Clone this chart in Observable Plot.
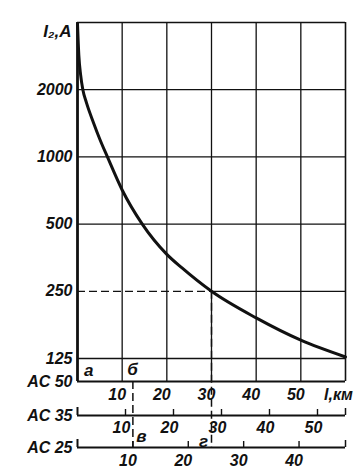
<!DOCTYPE html>
<html><head><meta charset="utf-8">
<script src="https://cdn.jsdelivr.net/npm/d3@7"></script>
<script src="https://cdn.jsdelivr.net/npm/@observablehq/plot@0.6"></script>
<style>
body{margin:0;background:#fff}
#chart svg{overflow:visible}
</style></head><body><div id="chart"></div>
<script>
// ---- data ----
const yTicks = [125, 250, 500, 1000, 2000];
const gridKm = [10, 20, 30, 40, 50];
const ac50Ticks = [10, 20, 30, 40, 50];
const ac35Ticks = [10, 20, 30, 40, 50];
const ac25Ticks = [10, 20, 30, 40];
// curve I2 (A) vs distance along AC 50 scale (km)
const distKm   = [0,    0.3,  0.7,  1.2,  2.0,  3.6,  5.0,  6.7,  10,  14.5, 20,  23.4, 30,  40,  50,  60];
const currentA = [3950, 2850, 2330, 2000, 1750, 1420, 1200, 1000, 711, 500,  366, 318,  250, 190, 151, 127];
const rowNames = ["AC 50", "AC 35", "AC 25"];
const regionNames = ["а", "б", "в", "г"];
const regionKm = [2.5, 12.3, 14.3, 28.2];
const markKm30 = 30;          // dashed marker on AC 50 scale
const markKm25 = 10;          // dashed marker on AC 25 scale
const markI = 250;
const scale35 = 1.0746;       // 1 km of AC 35 in AC 50 km
const scale25 = 1.24;         // 1 km of AC 25 in AC 50 km
const xMax = 60;
const yMin = 98.6, yMax = 4000;

const curve = distKm.map((k, i) => ({km: k, I: currentA[i]}));
const ink = "#111";
const dash = "8,4";
const font = "'Liberation Sans', Arial, sans-serif";
const Y0 = () => yMin;

const row35 = 34, row25 = 66;

const chart = Plot.plot({
  width: 364,
  height: 470,
  marginLeft: 77,
  marginRight: 19,
  marginTop: 22,
  marginBottom: 89,
  style: {fontFamily: font, fontSize: "16px", fontStyle: "italic", fontWeight: "bold", color: ink, background: "#fff", overflow: "visible"},
  x: {domain: [0, xMax], axis: null},
  y: {type: "log", domain: [yMin, yMax], ticks: yTicks, tickFormat: d => String(d), tickSize: 0, tickPadding: 5, label: null},
  marks: [
    // grid
    Plot.ruleX(gridKm, {stroke: ink, strokeWidth: 1.3}),
    Plot.ruleY(yTicks.filter(v => v !== markI), {stroke: ink, strokeWidth: 1.3}),
    Plot.ruleY([markI], {x1: () => markKm30, x2: () => xMax, stroke: ink, strokeWidth: 1.3}),
    Plot.ruleY([markI], {x1: () => 0, x2: () => markKm30, stroke: ink, strokeWidth: 1.3, strokeDasharray: dash}),
    // frame
    Plot.ruleY([yMax], {stroke: ink, strokeWidth: 1.3}),
    Plot.ruleX([xMax], {stroke: ink, strokeWidth: 1.6}),
    Plot.ruleX([0], {stroke: ink, strokeWidth: 2.8}),
    Plot.ruleY([yMin], {stroke: ink, strokeWidth: 2.2}),
    // curve
    Plot.line(curve, {x: "km", y: "I", curve: "monotone-x", stroke: ink, strokeWidth: 3}),
    // dashed markers
    Plot.ruleX([markKm30], {y1: () => markI, y2: Y0, insetBottom: -row25, stroke: ink, strokeWidth: 1.5, strokeDasharray: dash}),
    Plot.ruleX([markKm25 * scale25], {y1: Y0, y2: Y0, insetBottom: -row25, stroke: ink, strokeWidth: 1.5, strokeDasharray: dash}),
    // AC 35 axis
    Plot.ruleY([yMin], {dy: row35, stroke: ink, strokeWidth: 2}),
    Plot.ruleX([0], {y1: Y0, y2: Y0, dy: row35, insetTop: -8, stroke: ink, strokeWidth: 2}),
    Plot.ruleX([xMax], {y1: Y0, y2: Y0, dy: row35, insetTop: -7, stroke: ink, strokeWidth: 1.5}),
    Plot.ruleX(ac35Ticks, {x: d => d * scale35, y1: Y0, y2: Y0, dy: row35, insetTop: -6, stroke: ink, strokeWidth: 1.4}),
    // AC 25 axis
    Plot.ruleY([yMin], {dy: row25, stroke: ink, strokeWidth: 2}),
    Plot.ruleX([0], {y1: Y0, y2: Y0, dy: row25, insetTop: -8, stroke: ink, strokeWidth: 2}),
    Plot.ruleX([xMax], {y1: Y0, y2: Y0, dy: row25, insetTop: -7, stroke: ink, strokeWidth: 1.5}),
    Plot.ruleX(ac25Ticks, {x: d => d * scale25, y1: Y0, y2: Y0, dy: row25, insetTop: -6, stroke: ink, strokeWidth: 1.4}),
    // scale labels
    Plot.text(ac50Ticks, {x: d => d, y: Y0, dy: 13, dx: -5, text: d => String(d), fill: ink}),
    Plot.text(ac35Ticks, {x: d => d * scale35, y: Y0, dy: row35 + 12, dx: -4, text: d => String(d), fill: ink}),
    Plot.text(ac25Ticks, {x: d => d * scale25, y: Y0, dy: row25 + 13, dx: -5, text: d => String(d), fill: ink}),
    Plot.text(["l,км"], {x: () => xMax, y: Y0, dy: 13, dx: -7, fill: ink}),
    // row names
    Plot.text([rowNames[0]], {x: () => 0, y: Y0, dx: -5, textAnchor: "end", fill: ink}),
    Plot.text([rowNames[1]], {x: () => 0, y: Y0, dy: row35, dx: -5, textAnchor: "end", fill: ink}),
    Plot.text([rowNames[2]], {x: () => 0, y: Y0, dy: row25, dx: -5, textAnchor: "end", fill: ink}),
    // axis title
    Plot.text(["I₂,A"], {x: () => 0, y: () => yMax, dx: -6, dy: 9, textAnchor: "end", fill: ink, fontSize: 17}),
    // region letters
    Plot.text([0], {x: () => regionKm[0], y: Y0, dy: -11, text: () => regionNames[0], fill: ink, fontSize: 17}),
    Plot.text([1], {x: () => regionKm[1], y: Y0, dy: -12, text: () => regionNames[1], fill: ink, fontSize: 17}),
    Plot.text([2], {x: () => regionKm[2], y: Y0, dy: 55, text: () => regionNames[2], fill: ink, fontSize: 17}),
    Plot.text([3], {x: () => regionKm[3], y: Y0, dy: 60, text: () => regionNames[3], fill: ink, fontSize: 17})
  ]
});
document.getElementById("chart").append(chart);
</script>
</body></html>
